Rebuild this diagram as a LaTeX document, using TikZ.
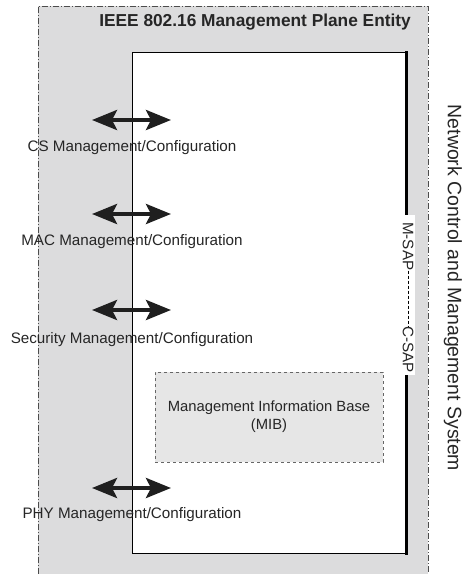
\documentclass[tikz,border=0pt]{standalone}
\usepackage{fontspec}
\setmainfont{Liberation Sans}
\usetikzlibrary{arrows.meta}
\definecolor{planegray}{HTML}{DCDCDD}
\definecolor{mibgray}{HTML}{E6E6E6}
\tikzset{
  label/.style={font=\fontsize{15.2}{17}\selectfont, text=black!85, inner sep=0pt},
  biarrow/.style={{Stealth[length=25pt,width=20pt,inset=5pt]}-{Stealth[length=25pt,width=20pt,inset=5pt]}, line width=4pt, black!88},
}
\begin{document}
\begin{tikzpicture}[x=1pt,y=-1pt]
\useasboundingbox (0,0) rectangle (463,574);
% management plane entity
\fill[planegray] (38,6) rectangle (428,574);
\draw[black!70, line width=0.6pt, dash pattern=on 6pt off 2pt on 1pt off 2pt] (38,574) -- (38,6) -- (428,6) -- (428,574);
\node[font=\bfseries\fontsize{17.3}{19}\selectfont, text=black!85, anchor=east, inner sep=0pt] (title) at (411,22) {IEEE 802.16 Management Plane Entity};
% inner entity
\fill[white] (132,52) rectangle (406,553);
\draw[line width=0.8pt] (406,52) -- (132,52) -- (132,553) -- (406,553);
\draw[line width=3pt] (406,51) -- (406,555);
% service access points
\node[rotate=-90, fill=white, inner sep=0pt, minimum height=14pt, minimum width=160pt, anchor=center] (sap) at (408,295) {};
\node[label, rotate=-90, anchor=west] (msap) at (408,222) {M-SAP};
\node[label, rotate=-90, anchor=east] (csap) at (408,373) {C-SAP};
\draw[line width=0.5pt, densely dashed] (msap.east) -- (csap.west);
% network control and management system
\node[font=\fontsize{19.45}{21}\selectfont, text=black!85, rotate=-90, inner sep=0pt] (ncms) at (453,288) {Network Control and Management System};
% MIB
\node[draw=black!60, dashed, line width=0.8pt, fill=mibgray, minimum width=228pt, minimum height=90pt, align=center, font=\fontsize{14.8}{18}\selectfont, text=black!85] (mib) at (269,417) {Management Information Base\\(MIB)};
% management/configuration interfaces
\coordinate (a1l) at (92,120); \coordinate (a1r) at (171,120);
\coordinate (a2l) at (92,214); \coordinate (a2r) at (171,214);
\coordinate (a3l) at (92,310); \coordinate (a3r) at (171,310);
\coordinate (a4l) at (92,488); \coordinate (a4r) at (171,488);
\draw[biarrow] (a1l) -- (a1r);
\draw[biarrow] (a2l) -- (a2r);
\draw[biarrow] (a3l) -- (a3r);
\draw[biarrow] (a4l) -- (a4r);
\node[label] (cs) at (132,148) {CS Management/Configuration};
\node[label] (mac) at (132,242) {MAC Management/Configuration};
\node[label] (sec) at (132,340) {Security Management/Configuration};
\node[label] (phy) at (132,515) {PHY Management/Configuration};
\end{tikzpicture}
\end{document}
